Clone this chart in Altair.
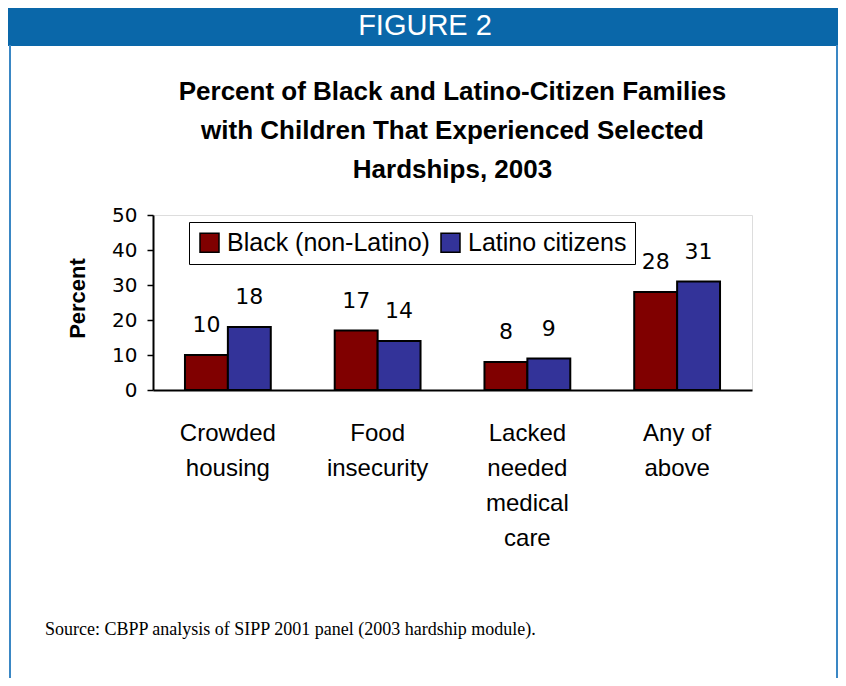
import altair as alt
import pandas as pd

categories = ["Crowded\nhousing", "Food\ninsecurity", "Lacked\nneeded\nmedical\ncare", "Any of\nabove"]
series = ["Black (non-Latino)", "Latino citizens"]
black_values = [10, 17, 8, 28]
latino_values = [18, 14, 9, 31]
colors = ["#800000", "#333399"]
y_ticks = [0, 10, 20, 30, 40, 50]

header_text = "FIGURE 2"
title_lines = ["Percent of Black and Latino-Citizen Families",
               "with Children That Experienced Selected",
               "Hardships, 2003"]
source_text = "Source: CBPP analysis of SIPP 2001 panel (2003 hardship module)."

rows = []
for c, b, l in zip(categories, black_values, latino_values):
    rows.append({"category": c, "series": series[0], "value": b})
    rows.append({"category": c, "series": series[1], "value": l})
df = pd.DataFrame(rows)

W, H = 599, 175
PL, PT = 145, 207

x_enc = alt.X("category:N", sort=categories,
              scale=alt.Scale(paddingInner=0.427, paddingOuter=0.2135),
              axis=alt.Axis(title=None, labelAngle=0, ticks=False, domainColor="black",
                            domainWidth=2, labelFontSize=24, labelFont="Liberation Sans",
                            labelColor="black", labelLineHeight=35, labelPadding=31,
                            labelBaseline="top",
                            labelExpr="split(datum.label, '\\n')"))
y_enc = alt.Y("value:Q", scale=alt.Scale(domain=[0, 50], nice=False),
              axis=alt.Axis(title="Percent", values=y_ticks, grid=False, tickSize=6,
                            tickColor="black", tickWidth=1.5, domainColor="black", domainWidth=2,
                            labelFontSize=20, labelFont="DejaVu Sans", labelColor="black",
                            labelOverlap=False, labelFlush=False,
                            labelPadding=10, titleFontSize=22, titleFont="Liberation Sans",
                            titleFontWeight="bold", titleColor="black", titleX=-76, titleY=83,
                            titleAngle=-90, titleAlign="center", titleBaseline="middle"))
color_enc = alt.Color("series:N", sort=series,
                      scale=alt.Scale(domain=series, range=colors),
                      legend=alt.Legend(title=None, orient="none", legendX=36, legendY=7,
                                        direction="horizontal", strokeColor="black",
                                        fillColor="white", padding=8, symbolType="square",
                                        symbolSize=361, symbolStrokeColor="black",
                                        symbolStrokeWidth=1.5, labelFontSize=25,
                                        labelFont="Liberation Sans", labelColor="black",
                                        labelLimit=0, columnPadding=8, labelOffset=5))
offset_enc = alt.XOffset("series:N", sort=series)

bars = alt.Chart(df).mark_bar(stroke="black", strokeWidth=2).encode(
    x=x_enc, xOffset=offset_enc, y=y_enc, color=color_enc)

labels = alt.Chart(df).mark_text(font="DejaVu Sans", fontSize=22, color="black",
                                 baseline="alphabetic", dy=-23).encode(
    x=x_enc, xOffset=offset_enc, y=y_enc, text="value:Q")

# decorative frame
frame_df = pd.DataFrame({"k": [0]})
header = alt.Chart(frame_df).mark_rect(color="#0a67a9").encode(
    x=alt.value(-145), x2=alt.value(686), y=alt.value(-208), y2=alt.value(-169))
left_line = alt.Chart(frame_df).mark_rule(color="#3a87c4", strokeWidth=2).encode(
    x=alt.value(-143), y=alt.value(-170), y2=alt.value(480))
right_line = alt.Chart(frame_df).mark_rule(color="#3a87c4", strokeWidth=2).encode(
    x=alt.value(684), y=alt.value(-170), y2=alt.value(480))
header_label = alt.Chart(frame_df).mark_text(
    text=header_text, color="white", fontSize=29, font="Liberation Sans",
    align="center", baseline="middle").encode(x=alt.value(272), y=alt.value(-189))

title_marks = []
for line, yy in zip(title_lines, [-123, -84, -45]):
    title_marks.append(alt.Chart(frame_df).mark_text(
        text=line, color="black", fontSize=26, fontWeight="bold", font="Liberation Sans",
        align="center", baseline="middle").encode(x=alt.value(W / 2), y=alt.value(yy)))

source = alt.Chart(frame_df).mark_text(
    text=source_text, color="black", fontSize=18, font="Liberation Serif",
    align="left", baseline="middle").encode(x=alt.value(-108), y=alt.value(415))

chart = alt.layer(header, left_line, right_line, header_label, *title_marks, bars, labels, source).properties(
    width=W, height=H,
    autosize=alt.AutoSizeParams(type="none"),
    padding={"left": PL, "top": PT, "right": 86, "bottom": 288},
).configure_view(stroke="#999999", strokeWidth=2).configure(background="white")

chart.save("out.html", embed_options={"renderer": "svg", "actions": False})
